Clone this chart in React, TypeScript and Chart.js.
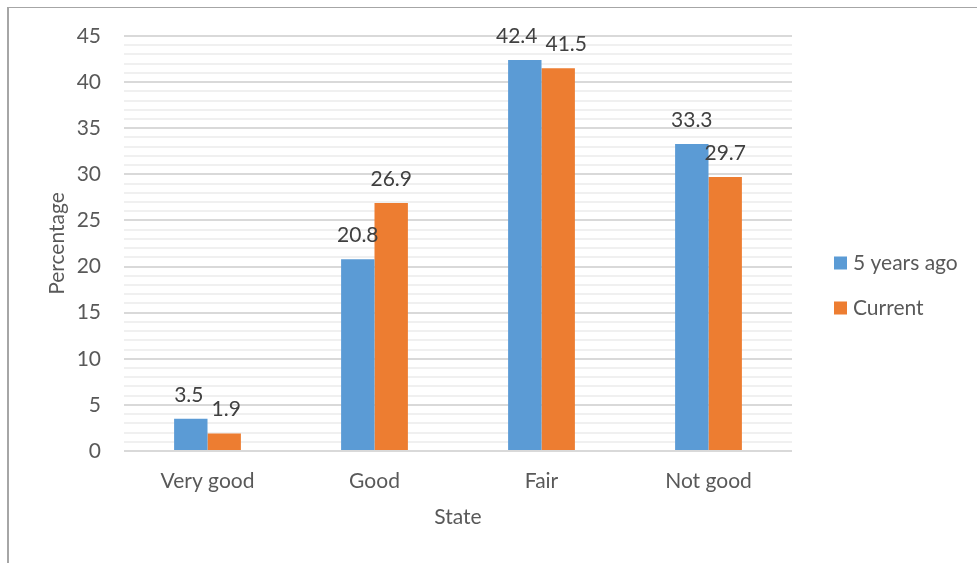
import React, { useEffect, useRef } from "react";
import { Chart, registerables } from "chart.js";

Chart.register(...registerables);

const categories = ["Very good", "Good", "Fair", "Not good"];
const fiveYearsAgo = [3.5, 20.8, 42.4, 33.3];
const current = [1.9, 26.9, 41.5, 29.7];
const seriesNames = ["5 years ago", "Current"];
const seriesColors = ["#5B9BD5", "#ED7D31"];
const yMin = 0;
const yMax = 45;
const yMajorStep = 5;
const xTitle = "State";
const yTitle = "Percentage";

const FONT = "Lato, 'Open Sans', sans-serif";
const FS = 21;
const TEXT = "#595959";

const dataLabelPlugin = {
  id: "dataLabels",
  afterDatasetsDraw(chart: any) {
    const ctx = chart.ctx;
    ctx.save();
    ctx.font = `${FS}px ${FONT}`;
    ctx.fillStyle = "#404040";
    ctx.textAlign = "center";
    ctx.textBaseline = "alphabetic";
    const metas = chart.data.datasets.map((_: any, di: number) => chart.getDatasetMeta(di));
    const n = chart.data.labels.length;
    for (let i = 0; i < n; i++) {
      // labels for this category, left to right
      const items = chart.data.datasets.map((ds: any, di: number) => {
        const el = metas[di].data[i];
        const text = String(ds.data[i]);
        const w = ctx.measureText(text).width;
        return { text, x: el.x, y: el.y - 17, w };
      });
      // simple collision avoidance between neighbouring labels
      for (let k = 0; k < items.length - 1; k++) {
        const a = items[k];
        const b = items[k + 1];
        const vOverlap = Math.abs(a.y - b.y) < FS * 0.8;
        const need = (a.w + b.w) / 2 + 8 - (b.x - a.x);
        if (vOverlap && need > 0) {
          a.x -= need / 2;
          b.x += need / 2;
        }
      }
      items.forEach((it: any) => ctx.fillText(it.text, it.x, it.y));
    }
    ctx.restore();
  },
};

const legendPlugin = {
  id: "customLegend",
  afterDraw(chart: any) {
    const ctx = chart.ctx;
    const ds = chart.data.datasets;
    const cy = chart.height / 2;
    const spacing = 45;
    const startY = cy - ((ds.length - 1) * spacing) / 2;
    const x = chart.chartArea.right + 42;
    ctx.save();
    ctx.font = `${FS}px ${FONT}`;
    ctx.textBaseline = "middle";
    ctx.textAlign = "left";
    ds.forEach((d: any, i: number) => {
      const y = startY + i * spacing;
      ctx.fillStyle = d.backgroundColor;
      ctx.fillRect(x, y - 6.5, 13, 13);
      ctx.fillStyle = TEXT;
      ctx.fillText(d.label, x + 19, y);
    });
    ctx.restore();
  },
};

export default function App() {
  const ref = useRef<HTMLCanvasElement>(null);
  useEffect(() => {
    if (!ref.current) return;
    const chart = new Chart(ref.current, {
      type: "bar",
      data: {
        labels: categories,
        datasets: [
          { label: seriesNames[0], data: fiveYearsAgo, backgroundColor: seriesColors[0] },
          { label: seriesNames[1], data: current, backgroundColor: seriesColors[1] },
        ],
      },
      plugins: [dataLabelPlugin, legendPlugin],
      options: {
        animation: false,
        responsive: false,
        maintainAspectRatio: false,
        layout: { padding: { top: 28, right: 185, bottom: 0, left: 0 } },
        plugins: {
          legend: { display: false },
          tooltip: { enabled: false },
        },
        datasets: {
          bar: { categoryPercentage: 0.4, barPercentage: 1.0 },
        },
        scales: {
          x: {
            grid: { display: false, drawTicks: false },
            border: { display: false },
            ticks: { color: TEXT, font: { family: FONT, size: FS }, padding: 18 },
            title: {
              display: true,
              text: xTitle,
              color: TEXT,
              font: { family: FONT, size: FS },
              padding: { top: 0, bottom: 33 },
            },
            afterFit: (s: any) => {
              s.height = 112;
              s.paddingLeft = 0;
              s.paddingRight = 0;
              s.paddingTop = 0;
              s.paddingBottom = 0;
            },
          },
          y: {
            min: yMin,
            max: yMax,
            grid: {
              drawTicks: false,
              lineWidth: 2,
              color: (c: any) =>
                c.tick && c.tick.value % yMajorStep === 0 ? "#d9d9d9" : "#f0f0f0",
            },
            border: { display: false },
            ticks: {
              stepSize: 1,
              autoSkip: false,
              color: TEXT,
              font: { family: FONT, size: FS },
              padding: 23,
              callback: (v: any) => (Number(v) % yMajorStep === 0 ? String(v) : ""),
            },
            title: {
              display: true,
              text: yTitle,
              color: TEXT,
              font: { family: FONT, size: FS },
              padding: { top: 36, bottom: 0 },
            },
            afterFit: (s: any) => {
              s.width = 115;
              s.paddingLeft = 0;
              s.paddingRight = 0;
              s.paddingTop = 0;
              s.paddingBottom = 0;
            },
          },
        },
      },
    });
    return () => chart.destroy();
  }, []);
  return (
    <div
      style={{
        position: "fixed",
        left: 7,
        top: 7,
        width: 970,
        height: 556,
        borderTop: "1px solid #a6a6a6",
        borderLeft: "2px solid #a6a6a6",
        background: "#fff",
      }}
    >
      <canvas ref={ref} width={968} height={555} style={{ display: "block" }} />
    </div>
  );
}
